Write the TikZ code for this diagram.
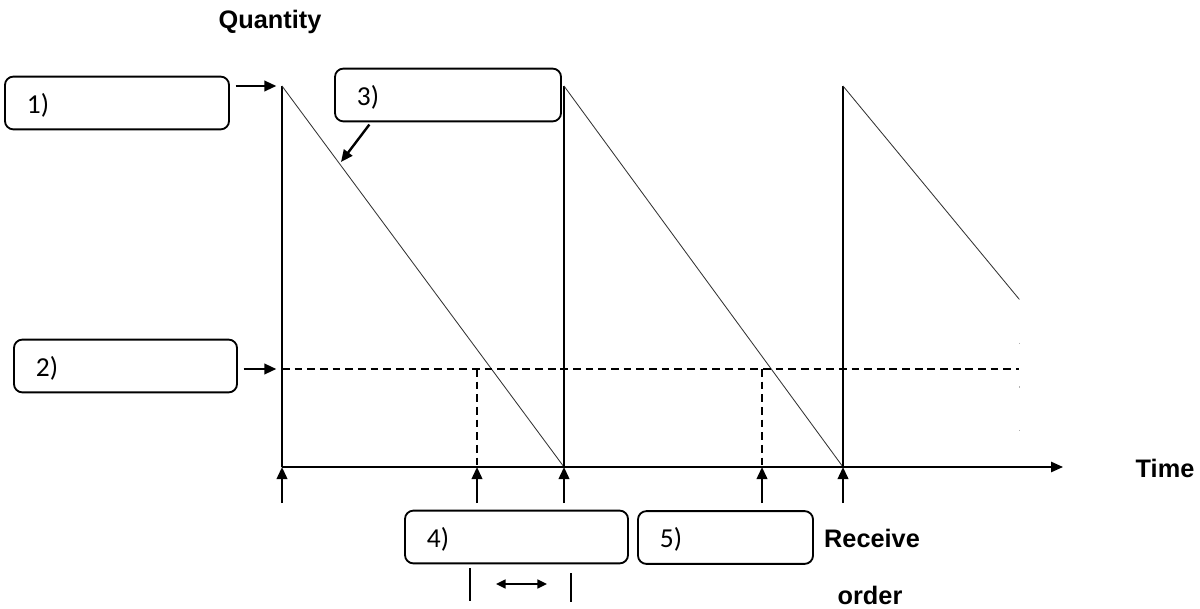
\documentclass[tikz,border=0pt]{standalone}
\usepackage{fontspec}
\setmainfont{Carlito}
\newfontfamily\headfont{Liberation Sans}
\usetikzlibrary{arrows.meta,positioning,calc}
\tikzset{
  lblbox/.style={draw=black,line width=1.3pt,rounded corners=6pt,
                 minimum height=1.32cm,inner xsep=0.55cm,inner ysep=0pt,
                 text depth=0pt,align=left,text width=#1,
                 font=\fontsize{19.5}{21}\selectfont},
  axlbl/.style={font=\headfont\bfseries\fontsize{18}{20}\selectfont},
  ptr/.style={-{Triangle[length=3mm,width=2.6mm]},line width=1.7pt},
  stock/.style={line width=0.6pt,black!80},
  restock/.style={line width=1.4pt},
  rop/.style={line width=0.9pt,dash pattern=on 5.5pt off 3.5pt},
  tickmark/.style={line width=1.4pt},
}

\begin{document}
\begin{tikzpicture}[x=0.025cm,y=-0.025cm]
  \useasboundingbox (0,0) rectangle (1200,609);
  % axis points
  \coordinate (o1) at (282,467);
  \coordinate (o2) at (564,467);
  \coordinate (o3) at (843,467);
  \coordinate (pk1) at (282,86);
  \coordinate (pk2) at (564,86);
  \coordinate (pk3) at (843,86);
  \coordinate (e3) at (1019,299);
  \coordinate (xend) at (1063,467);
  \coordinate (r0) at (282,369);
  \coordinate (r1) at (477,369);
  \coordinate (r2) at (762,369);
  \coordinate (rE) at (1019,369);
  \coordinate (a1) at (477,467);
  \coordinate (a2) at (762,467);
  \coordinate (slope) at (341,162);

  % labels
  \node[axlbl] (qty) at (270,22) {Quantity};
  \node[axlbl] (time) at (1165,468) {Time};
  \node[axlbl] (recv) at (872,538) {Receive};
  \node[axlbl] (ord) at (870,595) {order};

  % boxes
  \node[lblbox=4.5cm] (b1) at (117,103) {1)};
  \node[lblbox=4.55cm] (b3) at (448,95) {3)};
  \node[lblbox=4.475cm] (b2) at (125.5,366) {2)};
  \node[lblbox=4.475cm] (b4) at (516.5,537) {4)};
  \node[lblbox=3.275cm] (b5) at (725.5,537.5) {5)};

  % axes and saw-tooth
  \draw[ptr,line width=1.1pt] (o1) -- (xend);
  \draw[restock] (o1) -- (pk1);
  \draw[stock] (pk1) -- (o2);
  \draw[restock] (o2) -- (pk2);
  \draw[stock] (pk2) -- (o3);
  \draw[restock] (o3) -- (pk3);
  \draw[stock] (pk3) -- (e3);
  \draw[black!30,line width=0.5pt,dash pattern=on 1pt off 30pt] (e3) -- (e3 |- o1);

  % reorder point
  \draw[rop] (r0) -- (rE);
  \draw[rop] (r1) -- (a1);
  \draw[rop] (r2) -- (a2);

  % pointers from boxes
  \draw[ptr,shorten <=4pt,shorten >=4pt] (b1.east |- pk1) -- (pk1);
  \draw[ptr,shorten <=4pt,shorten >=4pt] (b2.east |- r0) -- (r0);
  \draw[ptr,shorten <=2pt] ($(b3.south west)+(37,0)$) -- (slope);

  % order / receive arrows
  \foreach \p in {o1,a1,o2,a2,o3}
    \draw[ptr] ($(\p)+(0,36)$) -- (\p);

  % lead time
  \draw[tickmark] (470,568) -- (470,601);
  \draw[tickmark] (571,573) -- (571,602);
  \draw[{Triangle[length=2.4mm,width=2.2mm]}-{Triangle[length=2.4mm,width=2.2mm]},line width=1.4pt]
    (496,584) -- (547,584);
\end{tikzpicture}
\end{document}
